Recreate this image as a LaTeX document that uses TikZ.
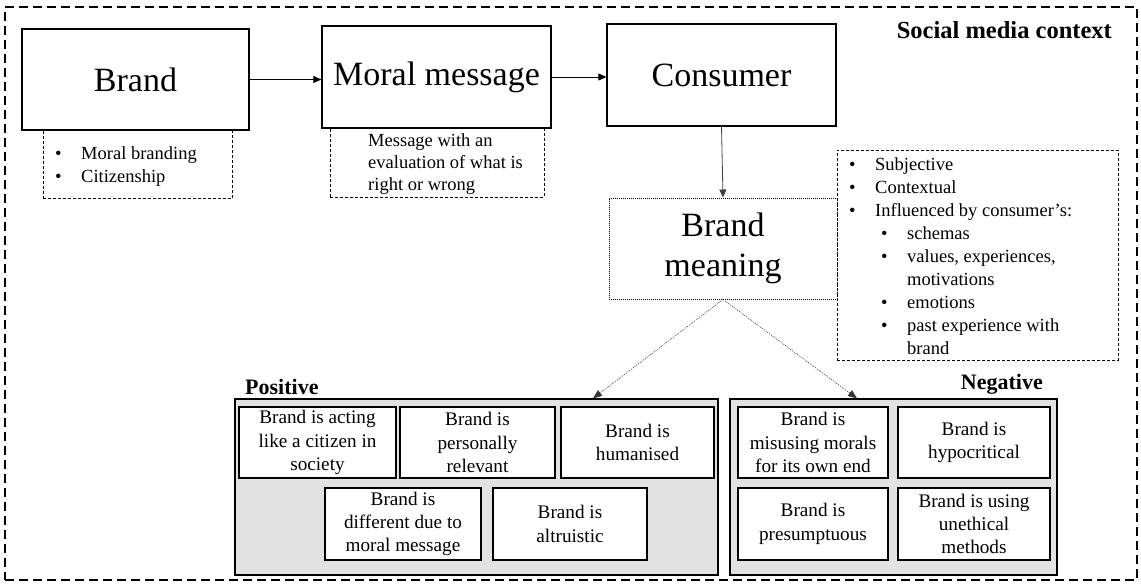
\documentclass[tikz,border=0pt]{standalone}
\usepackage{fontspec}
\setmainfont{Liberation Serif}
\usetikzlibrary{arrows.meta}
\definecolor{panelgray}{RGB}{226,226,226}
\begin{document}
\begin{tikzpicture}[x=1pt,y=-1pt,
  bigbox/.style={draw=black, line width=1.3pt, fill=white, inner sep=0pt,
    font=\fontsize{34}{40}\selectfont, align=center},
  listbox/.style={draw=black, dashed, line width=0.9pt, dash pattern=on 3pt off 2pt, inner sep=0pt},
  listtext/.style={inner sep=0pt, anchor=north west, align=left,
    font=\fontsize{18.5}{23}\selectfont},
  itembox/.style={draw=black, line width=1.1pt, fill=white, inner sep=0pt,
    align=center, font=\fontsize{19.2}{23.3}\selectfont},
  panel/.style={draw=black, line width=1.2pt, fill=panelgray, inner sep=0pt},
  label/.style={inner sep=0pt, font=\fontsize{22}{24}\selectfont\bfseries},
  flow/.style={-{Triangle[length=8pt,width=7pt]}, line width=0.8pt},
  dotarrow/.style={-{Triangle[length=9pt,width=7pt]}, line width=0.5pt, dash pattern=on 1.2pt off 1pt, draw=black!80},
]
\useasboundingbox (0,0) rectangle (1141,586);
% outer frame
\node[draw=black, line width=1.8pt, dash pattern=on 9pt off 5pt, inner sep=0pt,
  minimum width=1132pt, minimum height=573pt] (frame) at (571,293.5) {};
\node[label, anchor=north east, font=\fontsize{24.5}{26}\selectfont\bfseries] (ctx) at (1112,21) {Social media context};

% lists under top boxes
\node[listbox, minimum width=189pt, minimum height=70pt] (brandlist) at (137.5,163.5) {};
\node[listtext] (brandlisttxt) at (55,143)
  {\strut\makebox[26pt][l]{\textbullet}Moral branding\\\makebox[26pt][l]{\textbullet}Citizenship};
\node[listbox, minimum width=214pt, minimum height=70pt] (morallist) at (437,162) {};
\node[listtext, font=\fontsize{18.5}{22}\selectfont] (morallisttxt) at (368,131)
  {\strut Message with an\\evaluation of what is\\right or wrong};

% top boxes
\node[bigbox, minimum width=227pt, minimum height=101pt] (brand) at (135.5,79.5) {Brand};
\node[bigbox, minimum width=229pt, minimum height=102pt] (moral) at (436.5,77) {Moral message};
\node[bigbox, minimum width=229pt, minimum height=102pt] (consumer) at (721.5,75) {Consumer};

% right list
\node[listbox, minimum width=281pt, minimum height=210pt] (meaninglist) at (977.5,255) {};
\node[listtext] (meaninglisttxt) at (849,154)
  {\strut\makebox[26pt][l]{\textbullet}Subjective\\
   \makebox[26pt][l]{\textbullet}Contextual\\
   \makebox[26pt][l]{\textbullet}Influenced by consumer’s:\\
   \hspace*{32pt}\makebox[26pt][l]{\textbullet}schemas\\
   \hspace*{32pt}\makebox[26pt][l]{\textbullet}values, experiences,\\
   \hspace*{58pt}motivations\\
   \hspace*{32pt}\makebox[26pt][l]{\textbullet}emotions\\
   \hspace*{32pt}\makebox[26pt][l]{\textbullet}past experience with\\
   \hspace*{58pt}brand};

% brand meaning
\node[draw=black, line width=1pt, dash pattern=on 1pt off 1pt, fill=white, inner sep=0pt,
  minimum width=228pt, minimum height=101pt, align=center,
  font=\fontsize{34}{40}\selectfont] (meaning) at (723,248.5) {Brand\\meaning};

% panels
\node[label, anchor=west] (poslabel) at (245,387) {Positive};
\node[label, anchor=east] (neglabel) at (1043,384) {Negative};
\node[panel, minimum width=483pt, minimum height=176pt] (pos) at (476.5,487) {};
\node[panel, minimum width=327pt, minimum height=176pt] (neg) at (893.5,487) {};

% positive items
\node[itembox, minimum width=157pt, minimum height=71pt] (p1) at (317.5,442.5) {Brand is acting\\like a citizen in\\society};
\node[itembox, minimum width=155pt, minimum height=71pt] (p2) at (477.5,442.5) {Brand is\\personally\\relevant};
\node[itembox, minimum width=153pt, minimum height=71pt] (p3) at (637.5,442.5) {Brand is\\humanised};
\node[itembox, minimum width=156pt, minimum height=72pt] (p4) at (403,524) {Brand is\\different due to\\moral message};
\node[itembox, minimum width=154pt, minimum height=72pt] (p5) at (570,524) {Brand is\\altruistic};

% negative items
\node[itembox, minimum width=150pt, minimum height=71pt] (n1) at (813,442.5) {Brand is\\misusing morals\\for its own end};
\node[itembox, minimum width=152pt, minimum height=71pt] (n2) at (974,442.5) {Brand is\\hypocritical};
\node[itembox, minimum width=150pt, minimum height=72pt] (n3) at (813,524) {Brand is\\presumptuous};
\node[itembox, minimum width=152pt, minimum height=72pt] (n4) at (974,524) {Brand is using\\unethical\\methods};

% connectors
\draw[flow] (brand.east) -- (moral.west |- brand.east);
\draw[flow] (moral.east) -- (consumer.west |- moral.east);
\draw[flow, draw=black!75] (consumer.south) -- (meaning.north);
\coordinate (posend) at (593,397);
\coordinate (negend) at (857,397);
\draw[dotarrow] (meaning.south) -- (pos.north -| posend);
\draw[dotarrow] (meaning.south) -- (neg.north -| negend);
\end{tikzpicture}
\end{document}
